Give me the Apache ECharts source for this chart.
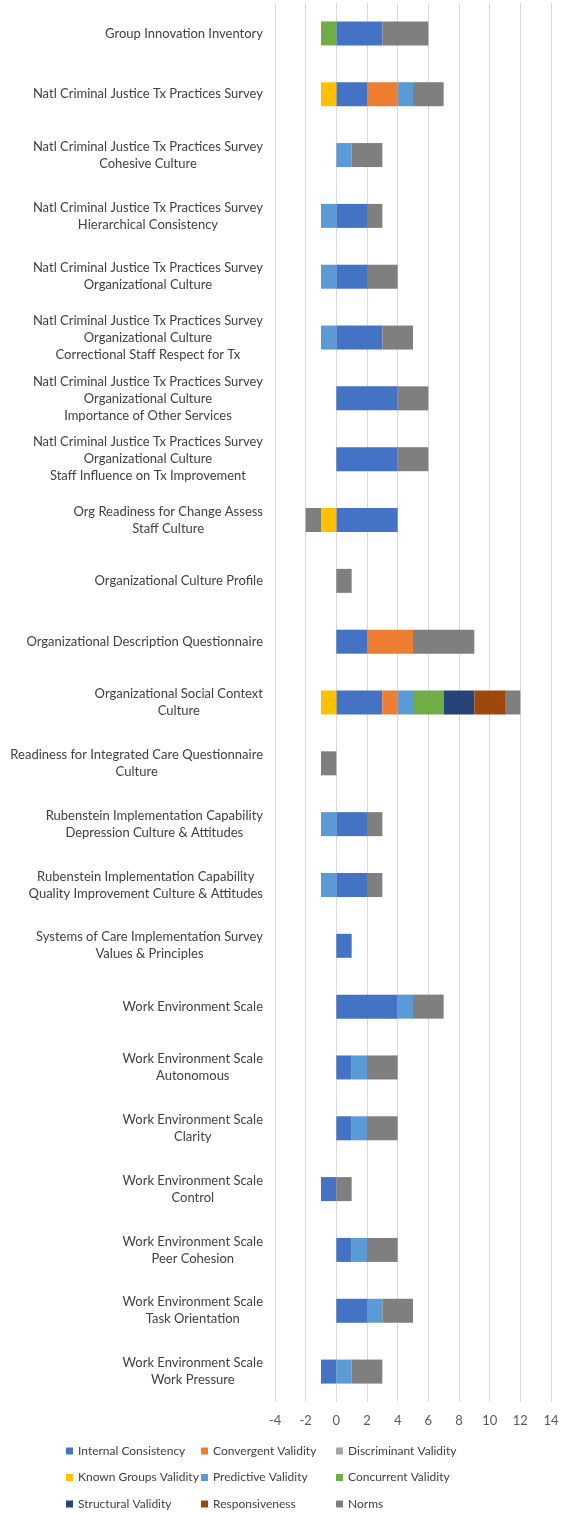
<!DOCTYPE html>
<html>
<head>
<meta charset="utf-8">
<script src="https://cdn.jsdelivr.net/npm/echarts@6/dist/echarts.min.js"></script>
<style>
html,body{margin:0;padding:0;background:#fff;}
#chart{width:562px;height:1513px;}
</style>
</head>
<body>
<div id="chart"></div>
<script>
const categories = [
  "Group Innovation Inventory",
  "Natl Criminal Justice Tx Practices Survey",
  "Natl Criminal Justice Tx Practices Survey\nCohesive Culture",
  "Natl Criminal Justice Tx Practices Survey\nHierarchical Consistency",
  "Natl Criminal Justice Tx Practices Survey\nOrganizational Culture",
  "Natl Criminal Justice Tx Practices Survey\nOrganizational Culture\nCorrectional Staff Respect for Tx",
  "Natl Criminal Justice Tx Practices Survey\nOrganizational Culture\nImportance of Other Services",
  "Natl Criminal Justice Tx Practices Survey\nOrganizational Culture\nStaff Influence on Tx Improvement",
  "Org Readiness for Change Assess\nStaff Culture",
  "Organizational Culture Profile",
  "Organizational Description Questionnaire",
  "Organizational Social Context\nCulture",
  "Readiness for Integrated Care Questionnaire\nCulture",
  "Rubenstein Implementation Capability\nDepression Culture & Attitudes",
  "Rubenstein Implementation Capability\nQuality Improvement Culture & Attitudes",
  "Systems of Care Implementation Survey\nValues & Principles",
  "Work Environment Scale",
  "Work Environment Scale\nAutonomous",
  "Work Environment Scale\nClarity",
  "Work Environment Scale\nControl",
  "Work Environment Scale\nPeer Cohesion",
  "Work Environment Scale\nTask Orientation",
  "Work Environment Scale\nWork Pressure"
];

const internalConsistency = [3, 2, 0, 2, 2, 3, 4, 4, 4, 0, 2, 3, 0, 2, 2, 1, 4, 1, 1, -1, 1, 2, -1];
const convergentValidity  = [0, 2, 0, 0, 0, 0, 0, 0, 0, 0, 3, 1, 0, 0, 0, 0, 0, 0, 0, 0, 0, 0, 0];
const discriminantValidity= [0, 0, 0, 0, 0, 0, 0, 0, 0, 0, 0, 0, 0, 0, 0, 0, 0, 0, 0, 0, 0, 0, 0];
const knownGroupsValidity = [0, -1, 0, 0, 0, 0, 0, 0, -1, 0, 0, -1, 0, 0, 0, 0, 0, 0, 0, 0, 0, 0, 0];
const predictiveValidity  = [0, 1, 1, -1, -1, -1, 0, 0, 0, 0, 0, 1, 0, -1, -1, 0, 1, 1, 1, 0, 1, 1, 1];
const concurrentValidity  = [-1, 0, 0, 0, 0, 0, 0, 0, 0, 0, 0, 2, 0, 0, 0, 0, 0, 0, 0, 0, 0, 0, 0];
const structuralValidity  = [0, 0, 0, 0, 0, 0, 0, 0, 0, 0, 0, 2, 0, 0, 0, 0, 0, 0, 0, 0, 0, 0, 0];
const responsiveness      = [0, 0, 0, 0, 0, 0, 0, 0, 0, 0, 0, 2, 0, 0, 0, 0, 0, 0, 0, 0, 0, 0, 0];
const norms               = [3, 2, 2, 1, 2, 2, 2, 2, -1, 1, 4, 1, -1, 1, 1, 0, 2, 2, 2, 1, 2, 2, 2];

const xTicks = [-4, -2, 0, 2, 4, 6, 8, 10, 12, 14];

const seriesDefs = [
  ["Internal Consistency", internalConsistency, "#4472C4"],
  ["Convergent Validity", convergentValidity, "#ED7D31"],
  ["Discriminant Validity", discriminantValidity, "#A5A5A5"],
  ["Known Groups Validity", knownGroupsValidity, "#FFC000"],
  ["Predictive Validity", predictiveValidity, "#5B9BD5"],
  ["Concurrent Validity", concurrentValidity, "#70AD47"],
  ["Structural Validity", structuralValidity, "#264478"],
  ["Responsiveness", responsiveness, "#9E480E"],
  ["Norms", norms, "#7F7F7F"]
];

const FONT = "Lato, 'Open Sans', sans-serif";
const TXT = "#404040";

const chart = echarts.init(document.getElementById('chart'), null, {renderer: 'canvas'});

function legendCol(left, names) {
  return {
    orient: 'vertical',
    left: left,
    top: 1438.5,
    height: 100,
    padding: 5,
    itemWidth: 7,
    itemHeight: 7,
    itemGap: 11.5,
    icon: 'rect',
    data: names,
    selectedMode: false,
    textStyle: {fontFamily: FONT, fontSize: 12, color: TXT, lineHeight: 15}
  };
}

chart.setOption({
  animation: false,
  backgroundColor: '#ffffff',
  grid: {left: 275, right: 11, top: 3, bottom: 111, containLabel: false},
  xAxis: {
    type: 'value',
    min: xTicks[0],
    max: xTicks[xTicks.length - 1],
    interval: 2,
    axisLine: {show: false},
    axisTick: {show: false},
    splitLine: {show: true, lineStyle: {color: '#D9D9D9', width: 1}},
    axisLabel: {fontFamily: FONT, fontSize: 13, color: '#595959', margin: 12}
  },
  yAxis: {
    type: 'category',
    inverse: true,
    data: categories,
    axisLine: {show: false},
    axisTick: {show: false},
    axisLabel: {
      margin: 12,
      formatter: function (v) {
        return v.split('\n').map(function (l) { return '{c|' + l + '}'; }).join('\n');
      },
      rich: {
        c: {align: 'center', fontFamily: FONT, fontSize: 13, lineHeight: 17, color: TXT}
      }
    }
  },
  legend: [
    legendCol(61, ["Internal Consistency", "Known Groups Validity", "Structural Validity"]),
    legendCol(196, ["Convergent Validity", "Predictive Validity", "Responsiveness"]),
    legendCol(331, ["Discriminant Validity", "Concurrent Validity", "Norms"])
  ],
  series: seriesDefs.map(function (d) {
    return {
      name: d[0],
      type: 'bar',
      stack: 'total',
      barWidth: 24,
      data: d[1],
      itemStyle: {color: d[2]}
    };
  })
});
</script>
</body>
</html>
